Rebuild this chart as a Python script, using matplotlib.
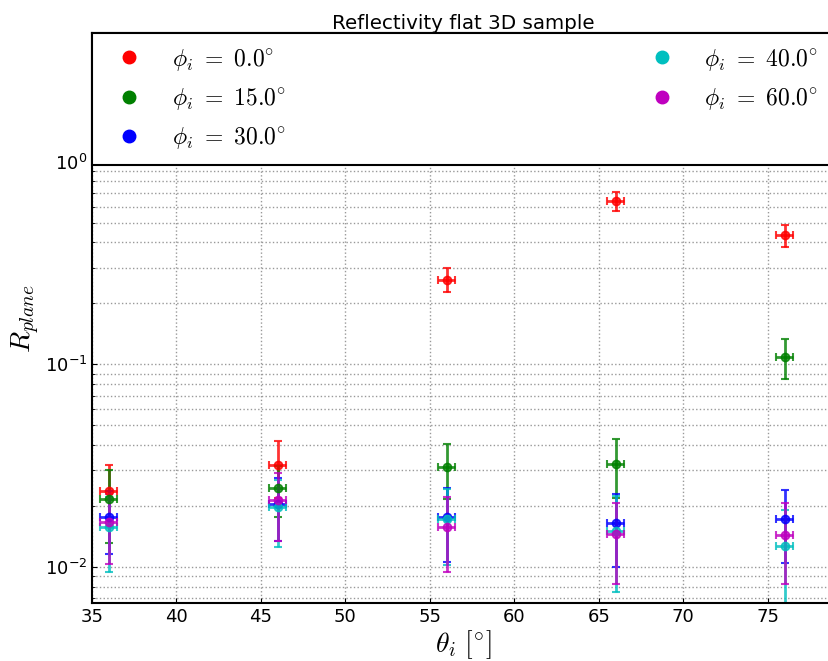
import numpy as np
import matplotlib.pyplot as plt
from matplotlib.lines import Line2D

plt.rcParams['mathtext.fontset'] = 'cm'
plt.rcParams['font.family'] = ['DejaVu Sans']

theta = [36, 46, 56, 66, 76]
phis = [0.0, 15.0, 30.0, 40.0, 60.0]
colors = ['#ff0000', '#008000', '#0000ff', '#00bfbf', '#bf00bf']

# reflectivity values and errors for each phi_i
R = [
    [0.0238, 0.0318, 0.262, 0.638, 0.433],
    [0.0216, 0.0246, 0.0311, 0.0323, 0.109],
    [0.0176, 0.0205, 0.0176, 0.0165, 0.0173],
    [0.0158, 0.0197, 0.0172, 0.0150, 0.0127],
    [0.0167, 0.0213, 0.0158, 0.0145, 0.0144],
]
R_err = [
    [0.0080, 0.0100, 0.035, 0.070, 0.055],
    [0.0085, 0.0070, 0.0095, 0.0105, 0.024],
    [0.0060, 0.0070, 0.0070, 0.0065, 0.0068],
    [0.0064, 0.0072, 0.0070, 0.0075, 0.0065],
    [0.0063, 0.0078, 0.0064, 0.0063, 0.0062],
]
theta_err = 0.5

fig = plt.figure(figsize=(8.29, 6.61), dpi=100)
ax = fig.add_axes([0.111, 0.0877, 0.896, 0.862])

handles = []
for phi, c, r, e in zip(phis, colors, R, R_err):
    ax.errorbar(theta, r, yerr=e, xerr=theta_err, fmt='o', color=c, ecolor=c,
                markersize=6, elinewidth=2, capsize=3, capthick=1.5, alpha=0.8,
                markeredgecolor=c)
    handles.append(Line2D([], [], marker='o', linestyle='none', color=c,
                          markeredgecolor=c, markersize=9,
                          label=r'$\phi_i\ =\ %.1f^{\circ}$' % phi))

ax.set_yscale('log')
ax.set_xlim(35, 78.97)
ax.set_ylim(0.00664, 4.3)
ax.set_xticks([35, 40, 45, 50, 55, 60, 65, 70, 75])
ax.grid(True, which='major', axis='x', linestyle=':', color='0.6', linewidth=1)
ax.grid(True, which='both', axis='y', linestyle=':', color='0.6', linewidth=1)
ax.tick_params(labelsize=13, direction='in', which='both')
for s in ax.spines.values():
    s.set_linewidth(1.5)

ax.set_title('Reflectivity flat 3D sample', fontsize=14.3, pad=1.5)
ax.set_xlabel(r'$\theta_i\ [^{\circ}]$', fontsize=20, labelpad=2)
ax.set_ylabel(r'$R_{plane}$', fontsize=20, labelpad=2)

leg = ax.legend(handles=handles, loc='upper left', bbox_to_anchor=(0, 0, 0.996, 1),
                mode='expand', ncol=2, borderaxespad=0, fontsize=17,
                fancybox=False, framealpha=1, edgecolor='black',
                handletextpad=0.8, labelspacing=0.56, borderpad=0.57)
leg.get_frame().set_linewidth(1.5)

fig.savefig('out.png', dpi=100)
